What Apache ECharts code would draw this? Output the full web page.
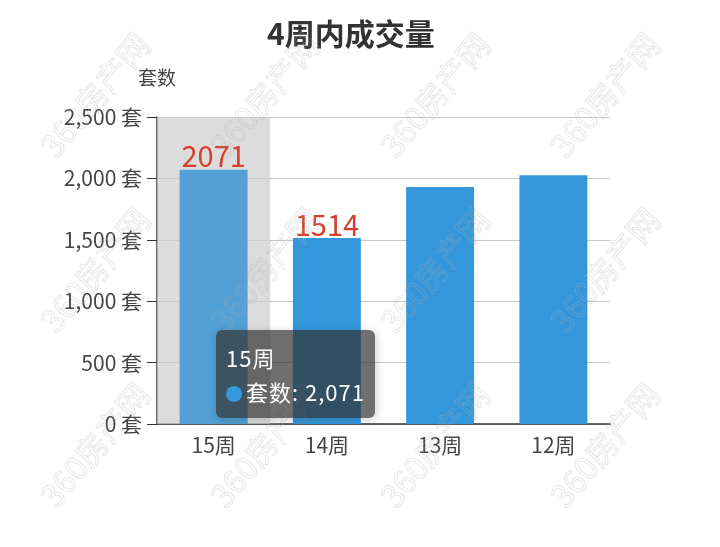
<!DOCTYPE html>
<html><head><meta charset="utf-8">
<script src="https://cdn.jsdelivr.net/npm/echarts@6/dist/echarts.min.js"></script>
<style>html,body{margin:0;padding:0;background:#fff}#c{width:720px;height:547px}</style>
</head><body><div id="c"></div>
<script>
var categories = ['15周', '14周', '13周', '12周'];
var values = [2071, 1514, 1930, 2025];
var showLabel = [true, true, false, false];
var yTicks = [0, 500, 1000, 1500, 2000, 2500];
var seriesName = '套数';
var titleText = '4周内成交量';
var watermarkText = '360房产网';

var FONT = '"Noto Sans CJK SC", "Noto Sans", sans-serif';
var chart = echarts.init(document.getElementById('c'));

var wm = [];
[95, 270, 445].forEach(function (cy) {
  [95, 265, 435, 605].forEach(function (cx) {
    wm.push({
      type: 'text', x: cx, y: cy, rotation: Math.PI * 50 / 180, z: 100, silent: true,
      style: { text: watermarkText, font: '32px ' + FONT, fill: 'rgba(0,0,0,0)', stroke: 'rgba(175,175,175,0.3)', lineWidth: 1, align: 'center', verticalAlign: 'middle' }
    });
  });
});

chart.setOption({
  animation: false,
  textStyle: { fontFamily: FONT },
  title: { text: titleText, left: 262, top: 14, textStyle: { fontSize: 30, fontWeight: 'bold', color: '#333', fontFamily: FONT } },
  grid: { left: 157, right: 110, top: 117, bottom: 123, containLabel: false },
  tooltip: {
    trigger: 'axis', alwaysShowContent: true,
    axisPointer: { type: 'shadow', z: 1, shadowStyle: { color: 'rgba(205,205,205,0.7)' } },
    position: [216, 330],
    backgroundColor: 'rgba(50,50,50,0.7)', borderWidth: 0, borderRadius: 6, padding: [10, 10],
    textStyle: { color: '#fff', fontSize: 22, fontFamily: FONT },
    formatter: function (p) {
      var v = p[0].value;
      return '<div style="font-size:22px;line-height:34px;color:#fff;letter-spacing:1px">' + p[0].name + '<br/>' +
        '<span style="display:inline-block;width:16px;height:16px;border-radius:8px;background:#3498db;margin-right:4px;vertical-align:-1px"></span>' +
        seriesName + ': ' + v.toLocaleString('en-US') + '</div>';
    }
  },
  xAxis: {
    type: 'category', data: categories,
    axisTick: { alignWithLabel: true, length: 7, lineStyle: { color: '#333' } },
    axisLine: { lineStyle: { color: '#333', width: 1.5 } },
    axisLabel: { fontSize: 21, color: '#444', margin: 11, fontFamily: FONT }
  },
  yAxis: {
    type: 'value', min: yTicks[0], max: yTicks[yTicks.length - 1], interval: yTicks[1] - yTicks[0],
    name: seriesName, nameGap: 30, nameTextStyle: { fontSize: 19, color: '#444', align: 'center', fontFamily: FONT },
    axisLine: { show: true, lineStyle: { color: '#333', width: 1.5 } },
    axisTick: { show: true, length: 10, lineStyle: { color: '#333' } },
    axisLabel: { fontSize: 21, color: '#444', margin: 15, fontFamily: FONT, formatter: function (v) { return v.toLocaleString('en-US') + ' 套'; } },
    splitLine: { lineStyle: { color: '#c8c8c8' } }
  },
  series: [{
    name: seriesName, type: 'bar', barWidth: '60%', z: 2,
    emphasis: { disabled: true },
    data: values.map(function (v, i) {
      return {
        value: v,
        itemStyle: { color: i === 0 ? '#52a0d6' : '#3497db' },
        label: { show: showLabel[i], position: 'top', distance: -1, color: '#d6402e', fontSize: 29, fontFamily: FONT }
      };
    })
  }],
  graphic: wm
});
chart.dispatchAction({ type: 'showTip', seriesIndex: 0, dataIndex: 0 });
</script>
</body></html>
